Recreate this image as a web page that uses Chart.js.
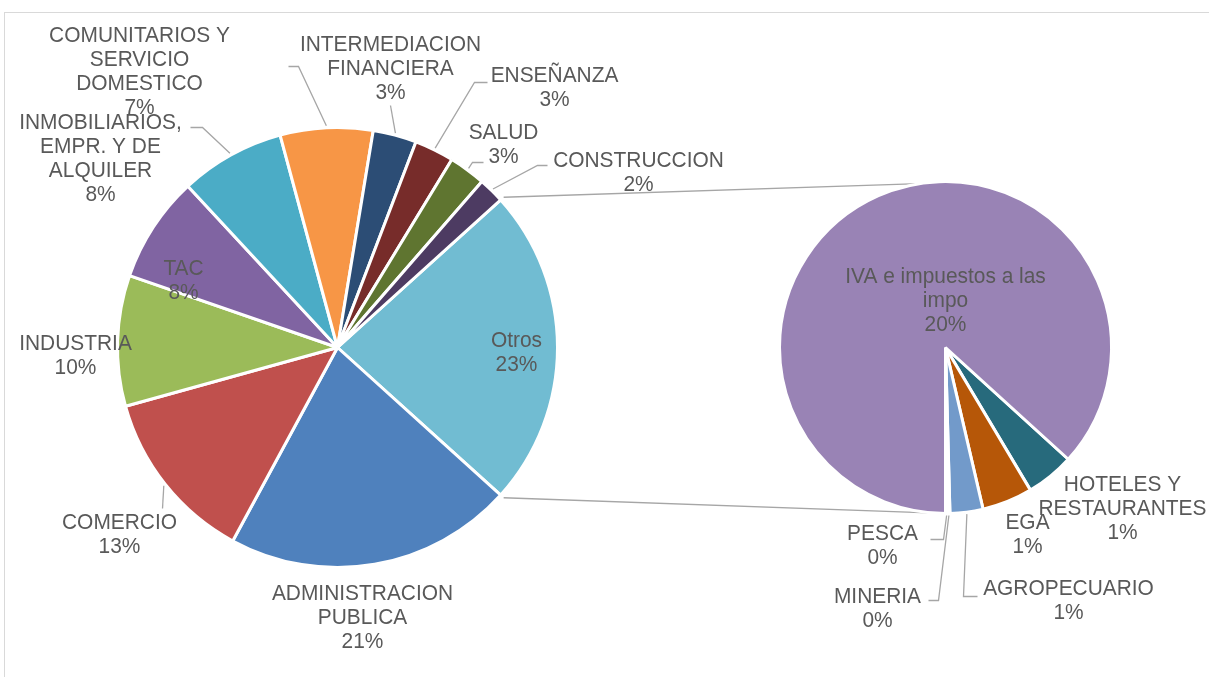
<!DOCTYPE html>
<html>
<head>
<meta charset="utf-8">
<script src="https://cdn.jsdelivr.net/npm/chart.js@4.4.0/dist/chart.umd.min.js"></script>
<style>
  html, body { margin: 0; padding: 0; background: #fff; }
  #wrap { position: relative; width: 1209px; height: 677px; overflow: hidden; }
  #frame { position: absolute; left: 4px; top: 12px; width: 1300px; height: 700px; border: 1px solid #d9d9d9; }
  canvas { position: absolute; left: 0; top: 0; }
</style>
</head>
<body>
<div id="wrap">
  <div id="frame"></div>
  <canvas id="pie-main" width="1209" height="677"></canvas>
  <canvas id="pie-otros" width="1209" height="677"></canvas>
</div>
<script>
// sectores del grafico principal, en orden horario a partir de "Otros"
const sectores = ['Otros', 'ADMINISTRACION\nPUBLICA', 'COMERCIO', 'INDUSTRIA', 'TAC',
  'INMOBILIARIOS,\nEMPR. Y DE\nALQUILER', 'COMUNITARIOS Y\nSERVICIO\nDOMESTICO',
  'INTERMEDIACION\nFINANCIERA', 'ENSEÑANZA', 'SALUD', 'CONSTRUCCION'];
const participacion = [23.4, 21.2, 12.8, 9.6, 7.8, 7.7, 6.8, 3.2, 2.9, 2.7, 1.9];

// desglose de "Otros"
const sectoresOtros = ['HOTELES Y\nRESTAURANTES', 'EGA', 'AGROPECUARIO', 'MINERIA', 'PESCA',
  'IVA e impuestos a las\nimpo'];
const participacionOtros = [1.1, 1.15, 0.75, 0.05, 0.05, 20.3];

const coloresMain = ['#71bcd2', '#4f81bd', '#c0504d', '#9bbb59', '#8064a2', '#4bacc6',
  '#f79646', '#2c4d75', '#772c2a', '#5f7530', '#4d3b62'];
const coloresOtros = ['#276a7c', '#b65708', '#729aca', '#cd7371', '#afc97a', '#9983b5'];

// posicion de etiquetas respecto al centro de cada torta [dx, dy]
const etiqMain = [[179, 5], [25, 270], [-218, 187], [-262, 8], [-154, -67], [-237, -189],
  [-198, -276], [53, -279], [217, -260], [166, -203], [301, -175]];
const guiaMain = [null, null, [[-175, 161]], null, null, [[-135, -220], [-147, -220]],
  [[-39, -281], [-49, -281]], [[53, -242]], [[137, -265], [150, -265]],
  [[135, -185], [146, -185]], [[200, -182], [210, -182]]];
const etiqOtros = [[177, 161], [82, 187], [123, 253], [-68, 261], [-63, 198], [0, -47]];
const guiaOtros = [null, null, [[18, 249], [32, 249]], [[-7, 253], [-17, 253]],
  [[-2, 192], [-15, 192]], null];

const total = participacion.reduce((a, b) => a + b, 0);
const shareOtros = participacion[0] / total;
const shareChicos = participacionOtros.slice(0, 5).reduce((a, b) => a + b, 0) / participacionOtros.reduce((a, b) => a + b, 0);

const TEXTO = '#595959';
const GUIA = '#a6a6a6';

function texto(ctx, str, x, y) {
  const lines = str.split('\n');
  const lh = 24;
  ctx.save();
  ctx.fillStyle = TEXTO;
  ctx.font = '22px "Liberation Sans", Arial, sans-serif';
  ctx.textAlign = 'center';
  ctx.textBaseline = 'middle';
  lines.forEach((l, i) => {
    const yy = y + (i - (lines.length - 1) / 2) * lh;
    ctx.save();
    ctx.translate(x, yy);
    ctx.scale(0.95, 1);
    ctx.fillText(l, 0, 0);
    ctx.restore();
  });
  ctx.restore();
}

function etiquetas(nombres, valores, pos, guias) {
  return {
    id: 'etiquetas',
    afterDatasetsDraw(chart) {
      const ctx = chart.ctx;
      const arcs = chart.getDatasetMeta(0).data;
      arcs.forEach((arc, i) => {
        const cx = arc.x, cy = arc.y;
        const pct = Math.round(valores[i] / total * 100);
        if (guias[i]) {
          const mid = (arc.startAngle + arc.endAngle) / 2;
          const r = arc.outerRadius + 2;
          ctx.save();
          ctx.strokeStyle = GUIA;
          ctx.lineWidth = 1.3;
          ctx.beginPath();
          ctx.moveTo(cx + r * Math.cos(mid), cy + r * Math.sin(mid));
          guias[i].forEach(p => ctx.lineTo(cx + p[0], cy + p[1]));
          ctx.stroke();
          ctx.restore();
        }
        texto(ctx, nombres[i] + '\n' + pct + '%', cx + pos[i][0], cy + pos[i][1]);
      });
    }
  };
}

const mainChart = new Chart(document.getElementById('pie-main'), {
  type: 'pie',
  data: {
    labels: sectores,
    datasets: [{
      data: participacion,
      backgroundColor: coloresMain,
      borderColor: '#ffffff',
      borderWidth: 3
    }]
  },
  options: {
    responsive: false,
    animation: false,
    rotation: 90 - shareOtros * 180,
    layout: { padding: { left: 116, right: 650, top: 126, bottom: 108 } },
    plugins: { legend: { display: false }, tooltip: { enabled: false } }
  },
  plugins: [etiquetas(sectores, participacion, etiqMain, guiaMain)]
});

const conectores = {
  id: 'conectores',
  beforeDatasetsDraw(chart) {
    const a = mainChart.getDatasetMeta(0).data[0];
    const b = chart.getDatasetMeta(0).data[0];
    const ra = a.outerRadius + 4;
    const rb = b.outerRadius;
    const topB = -99 * Math.PI / 180, botB = 91 * Math.PI / 180;
    const ctx = chart.ctx;
    ctx.save();
    ctx.strokeStyle = GUIA;
    ctx.lineWidth = 1.3;
    ctx.beginPath();
    ctx.moveTo(a.x + ra * Math.cos(a.startAngle), a.y + ra * Math.sin(a.startAngle));
    ctx.lineTo(b.x + rb * Math.cos(topB), b.y + rb * Math.sin(topB));
    ctx.moveTo(a.x + ra * Math.cos(a.endAngle), a.y + ra * Math.sin(a.endAngle));
    ctx.lineTo(b.x + rb * Math.cos(botB), b.y + rb * Math.sin(botB));
    ctx.stroke();
    ctx.restore();
  }
};

const otrosChart = new Chart(document.getElementById('pie-otros'), {
  type: 'pie',
  data: {
    labels: sectoresOtros,
    datasets: [{
      data: participacionOtros,
      backgroundColor: coloresOtros,
      borderColor: '#ffffff',
      borderWidth: 3
    }]
  },
  options: {
    responsive: false,
    animation: false,
    rotation: 180 - shareChicos * 360,
    layout: { padding: { left: 778, right: 96, top: 180, bottom: 162 } },
    plugins: { legend: { display: false }, tooltip: { enabled: false } }
  },
  plugins: [conectores, etiquetas(sectoresOtros, participacionOtros, etiqOtros, guiaOtros)]
});
</script>
</body>
</html>
